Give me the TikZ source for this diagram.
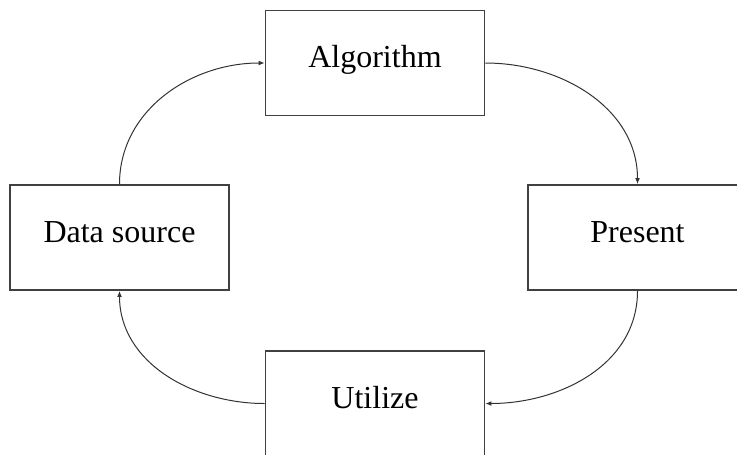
\documentclass[tikz,border=0pt]{standalone}
\usepackage{fontspec}
\setmainfont{Liberation Serif}
\usetikzlibrary{arrows.meta}
\begin{document}
\begin{tikzpicture}[x=0.75pt,y=-0.75pt,
  box/.style={draw=black!75, line width=1.1pt, minimum width=164.5pt, minimum height=79pt,
    inner sep=0pt, text height=0.68em, text depth=0pt, font=\fontsize{24}{28}\selectfont},
  link/.style={draw=black!80, line width=0.75pt, -{Latex[length=4.5pt,width=3.6pt]}}]
\useasboundingbox (0,0) rectangle (737,454);
\clip (0,0) rectangle (737,454);
\node[box] (alg) at (375,63) {Algorithm};
\node[box] (ds) at (119.5,237.5) {Data source};
\node[box] (pr) at (637.5,237.5) {Present};
\node[box] (ut) at (375,403.5) {Utilize};
\draw[link] (ds.north) to[out=90,in=180] (alg.west);
\draw[link] (alg.east) to[out=0,in=90] (pr.north);
\draw[link] (pr.south) to[out=-90,in=0] (ut.east);
\draw[link] (ut.west) to[out=180,in=-90] (ds.south);
\end{tikzpicture}
\end{document}
